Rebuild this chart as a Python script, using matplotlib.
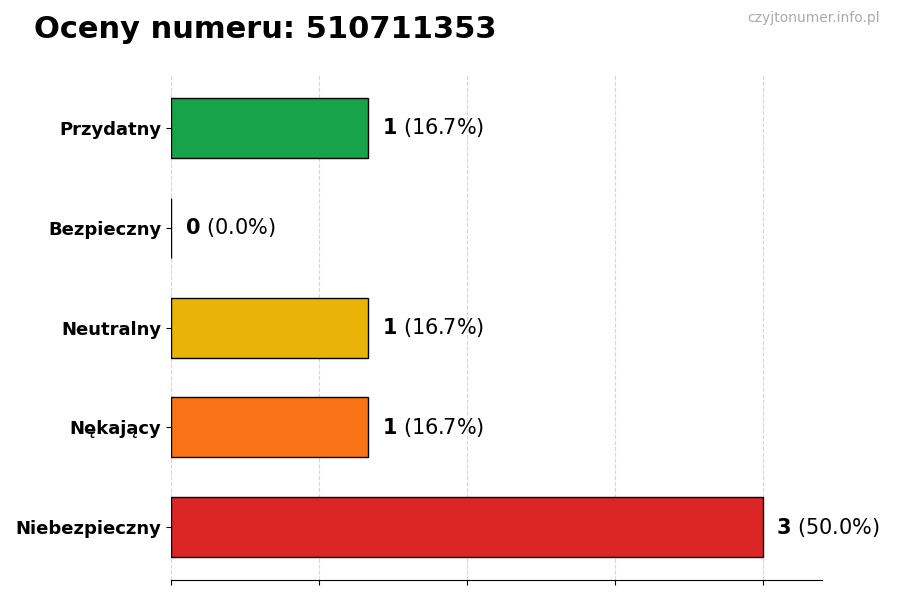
import matplotlib
matplotlib.use("Agg")
import matplotlib.pyplot as plt

# dane z wykresu (od dolu do gory)
kategorie = ["Niebezpieczny", "Nękający", "Neutralny", "Bezpieczny", "Przydatny"]
wartosci = [3, 1, 1, 0, 1]
procenty = [50.0, 16.7, 16.7, 0.0, 16.7]
kolory = ["#dc2626", "#f97316", "#eab308", "#22c55e", "#16a34a"]

fig, ax = plt.subplots(figsize=(9, 6), dpi=100)
fig.subplots_adjust(left=0.19, right=0.913, top=0.875, bottom=0.033)

ax.barh(range(len(kategorie)), wartosci, height=0.6, color=kolory,
        edgecolor="black", linewidth=1)
ax.set_yticks(range(len(kategorie)))
ax.set_yticklabels(kategorie, fontsize=13, fontweight="bold")
ax.set_xlim(0, 3.3)
ax.set_ylim(-0.53, 4.53)
ax.set_xticks([0, 0.75, 1.5, 2.25, 3])
ax.set_xticklabels([])
ax.grid(axis="x", linestyle="--", color="#cccccc", alpha=0.8)
ax.set_axisbelow(True)
for s in ["top", "right", "left"]:
    ax.spines[s].set_visible(False)

for i, (w, p) in enumerate(zip(wartosci, procenty)):
    ax.annotate(f"$\\bf{{{w}}}$ ({p:.1f}%)", (w, i), xytext=(10, 0),
                textcoords="offset points", va="center", fontsize=15)

fig.text(0.038, 0.95, "Oceny numeru: 510711353", fontsize=22, fontweight="bold", va="center")
fig.text(0.978, 0.97, "czyjtonumer.info.pl", fontsize=10, color="#aaaaaa", ha="right", va="center")

fig.savefig("out.png")
